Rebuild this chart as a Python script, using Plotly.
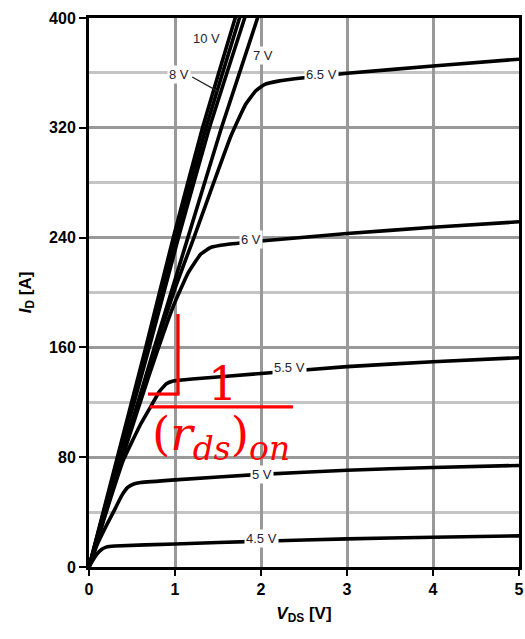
import plotly.graph_objects as go

# ---- data (V_DS in V, I_D in A) ----
v_10 = [0, 0.33, 0.66, 0.98, 1.32, 1.70, 1.80]
i_10 = [0, 80, 160, 240, 320, 400, 420]
v_9 = [0, 0.34, 0.68, 1.01, 1.36, 1.75, 1.85]
i_9 = [0, 80, 160, 240, 320, 400, 420]
v_8 = [0, 0.35, 0.70, 1.04, 1.40, 1.81, 1.91]
i_8 = [0, 80, 160, 240, 320, 400, 420]
v_7 = [0, 0.38, 0.76, 1.15, 1.54, 1.96, 2.06]
i_7 = [0, 80, 160, 240, 320, 400, 420]
v_65 = [0, 0.4, 0.8, 1.0, 1.22, 1.45, 1.65, 1.82, 1.94, 2.04, 2.2, 2.5, 3, 4, 5]
i_65 = [0, 85, 165, 203, 240, 280, 314, 337, 347, 351.5, 354, 356.5, 359.7, 365, 370]
v_6 = [0, 0.4, 0.7, 0.98, 1.15, 1.3, 1.42, 1.6, 2, 3, 4, 5]
i_6 = [0, 82, 140, 190, 214, 228, 233, 235, 237.5, 243, 247.5, 251.5]
v_55 = [0, 0.2, 0.4, 0.6, 0.71, 0.82, 0.9, 0.98, 1.2, 2, 3, 4, 5]
i_55 = [0, 40, 78, 104, 116, 128, 133.5, 135.5, 137, 141, 146, 149.5, 152.5]
v_5 = [0, 0.1, 0.2, 0.3, 0.38, 0.45, 0.52, 0.6, 1, 2, 3, 4, 5]
i_5 = [0, 17, 30, 42, 52, 58, 60.5, 61.5, 63.5, 67.5, 70.5, 72.5, 74]
v_45 = [0, 0.05, 0.1, 0.15, 0.2, 0.3, 1, 2, 3, 4, 5]
i_45 = [0, 5.5, 10, 13, 14.5, 15.3, 16.8, 18.8, 20.5, 21.7, 22.7]

curves = [(v_10, i_10), (v_9, i_9), (v_8, i_8), (v_7, i_7), (v_65, i_65),
          (v_6, i_6), (v_55, i_55), (v_5, i_5), (v_45, i_45)]

curve_labels = ["10 V", "7 V", "8 V", "6.5 V", "6 V", "5.5 V", "5 V", "4.5 V"]
label_x = [1.372, 2.023, 1.047, 2.70, 1.884, 2.337, 2.01, 2.01]
label_y = [385.4, 373.0, 359.2, 359.2, 238.3, 145.0, 67.5, 21.1]

x_ticks = [0, 1, 2, 3, 4, 5]
y_ticks = [0, 80, 160, 240, 320, 400]

FONT = "Liberation Sans, Arial, sans-serif"
SERIF = "DejaVu Serif, Liberation Serif, serif"
RED = "#ff0000"

fig = go.Figure()
for vx, iy in curves:
    fig.add_trace(go.Scatter(x=vx, y=iy, mode="lines",
                             line=dict(color="black", width=3.6, shape="spline", smoothing=0.35),
                             hoverinfo="skip", showlegend=False))

annotations = []
for t, x, y in zip(curve_labels, label_x, label_y):
    annotations.append(dict(x=x, y=y, xref="x", yref="y", text=t, showarrow=False,
                            font=dict(family=FONT, size=13, color="#1c2438"),
                            bgcolor="white", borderpad=1))


def px_to_v(px):
    return (px - 89) / 86.0


def py_to_i(py):
    return (567 - py) / 1.3725


# red fraction 1 / (r_ds)_on
annotations.append(dict(x=px_to_v(222), y=py_to_i(384), xref="x", yref="y", text="1",
                        showarrow=False, font=dict(family=SERIF, size=46, color=RED)))
annotations.append(dict(x=px_to_v(151), y=py_to_i(437), xref="x", yref="y",
                        text="(<i>r</i><sub><i>ds</i></sub>)<sub><i>on</i></sub>",
                        xanchor="left", yanchor="middle", showarrow=False, borderpad=0,
                        font=dict(family=SERIF, size=47, color=RED)))

shapes = [
    # 8 V leader
    dict(type="line", xref="x", yref="y", x0=1.20, y0=357, x1=1.50, y1=346.5,
         line=dict(color="#222222", width=1.3), layer="above"),
    # red slope triangle
    dict(type="line", xref="x", yref="y", x0=1.035, y0=184.3, x1=1.035, y1=126,
         line=dict(color=RED, width=3.2), layer="above"),
    dict(type="line", xref="x", yref="y", x0=0.686, y0=126, x1=1.053, y1=126,
         line=dict(color=RED, width=3.2), layer="above"),
    # fraction bar
    dict(type="line", xref="x", yref="y", x0=0.709, y0=116.6, x1=2.372, y1=116.6,
         line=dict(color=RED, width=3.2), layer="above"),
]

fig.update_layout(
    width=525, height=639,
    margin=dict(l=89, r=6, t=18, b=72),
    paper_bgcolor="white", plot_bgcolor="white",
    annotations=annotations, shapes=shapes,
    xaxis=dict(range=[0, 5], tickvals=x_ticks, ticktext=[str(v) for v in x_ticks],
               automargin=False,
               showgrid=True, gridcolor="#999999", gridwidth=3,
               showline=True, linecolor="black", linewidth=3, mirror=True,
               ticks="outside", ticklen=6, tickwidth=1.5, tickcolor="black",
               zeroline=False,
               tickfont=dict(family=FONT, size=16, color="black", weight="bold"),
               title=dict(text="<b><i>V</i><sub>DS</sub> [V]</b>",
                          font=dict(family=FONT, size=17, color="black"), standoff=10)),
    yaxis=dict(range=[0, 400], tickvals=y_ticks, ticktext=[str(v) for v in y_ticks],
               automargin=False,
               showgrid=True, gridcolor="#999999", gridwidth=3,
               minor=dict(dtick=40, tick0=0, showgrid=True, gridcolor="#c4c4c4", gridwidth=3),
               showline=True, linecolor="black", linewidth=3, mirror=True,
               ticks="outside", ticklen=7, tickwidth=1.5, tickcolor="black",
               zeroline=False,
               tickfont=dict(family=FONT, size=16, color="black", weight="bold"),
               title=dict(text="<b><i>I</i><sub>D</sub> [A]</b>",
                          font=dict(family=FONT, size=17, color="black"), standoff=14)),
)

fig.write_html("out.html")
